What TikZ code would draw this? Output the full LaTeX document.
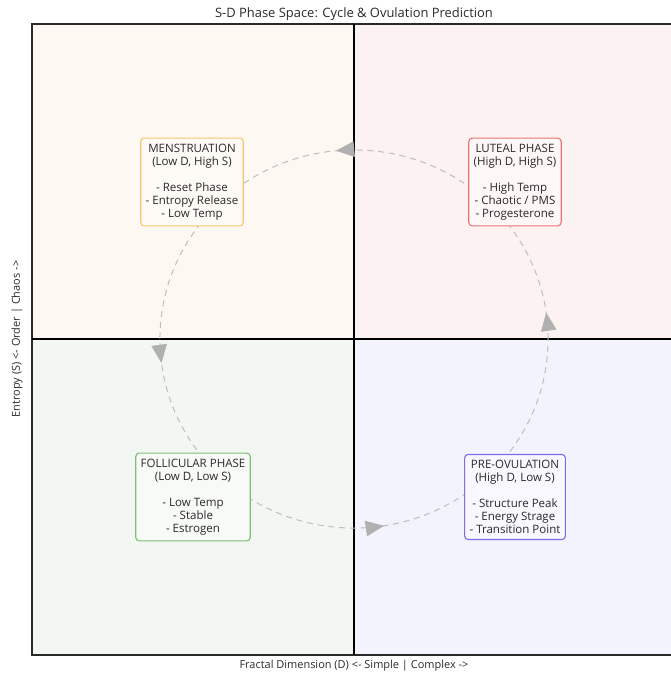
\documentclass[tikz,border=0pt]{standalone}
\usepackage{fontspec}
\setmainfont{Open Sans}
\usetikzlibrary{arrows.meta,decorations.markings}
\definecolor{mensbg}{HTML}{FEF8F2}
\definecolor{lutbg}{HTML}{FDF2F2}
\definecolor{folbg}{HTML}{F3F7F1}
\definecolor{ovubg}{HTML}{F3F3FD}
\definecolor{mensline}{HTML}{F8C56E}
\definecolor{lutline}{HTML}{EC7474}
\definecolor{folline}{HTML}{7FBE78}
\definecolor{ovuline}{HTML}{7A70EE}
\definecolor{cyclegray}{HTML}{BDBDBD}
\definecolor{tipgray}{HTML}{B0B0B0}
\definecolor{txtgray}{HTML}{2A2A2A}
\begin{document}
\begin{tikzpicture}[x=0.025cm,y=0.025cm]
    \tikzset{
        phase/.style={draw,thick,rounded corners=2.5pt,align=center,inner xsep=3.5pt,inner ysep=4pt,
            text=txtgray,font=\fontsize{8.2}{9.3}\selectfont},
        label/.style={text=txtgray,font=\fontsize{7.8}{9}\selectfont},
        cycle/.style={cyclegray,line width=0.7pt,dash pattern=on 4.3pt off 3.4pt,
            postaction={decorate},decoration={markings,
                mark=at position 0.022 with {\arrow{Triangle[length=13pt,width=11pt,fill=tipgray,color=tipgray]}},
                mark=at position 0.265 with {\arrow{Triangle[length=13pt,width=11pt,fill=tipgray,color=tipgray]}},
                mark=at position 0.52 with {\arrow{Triangle[length=13pt,width=11pt,fill=tipgray,color=tipgray]}},
                mark=at position 0.775 with {\arrow{Triangle[length=13pt,width=11pt,fill=tipgray,color=tipgray]}}}}
    }
    \useasboundingbox (0,0) rectangle (671,673);
    \fill[mensbg] (32,334) rectangle (354,649);
    \fill[lutbg] (354,334) rectangle (671,649);
    \fill[folbg] (32,18) rectangle (354,334);
    \fill[ovubg] (354,18) rectangle (671,334);
    \draw[txtgray,line width=1pt] (671,649) -- (32,649) -- (32,18) -- (671,18);
    \draw[black,line width=0.8pt] (354,18) -- (354,649);
    \draw[black,line width=0.8pt] (32,334) -- (671,334);
    \coordinate (hub) at (354,334);
    \draw[cycle] (hub) ellipse [x radius=4.85cm,y radius=4.725cm];
    \node[phase,draw=mensline,fill=mensbg!60!white] (mens) at (192,491) {MENSTRUATION\\(Low D, High S)\\[9.3pt]- Reset Phase\\- Entropy Release\\- Low Temp};
    \node[phase,draw=lutline,fill=lutbg!60!white] (luteal) at (515,491) {LUTEAL PHASE\\(High D, High S)\\[9.3pt]- High Temp\\- Chaotic / PMS\\- Progesterone};
    \node[phase,draw=folline,fill=folbg!60!white] (foll) at (193,176) {FOLLICULAR PHASE\\(Low D, Low S)\\[9.3pt]- Low Temp\\- Stable\\- Estrogen};
    \node[phase,draw=ovuline,fill=ovubg!60!white] (preov) at (515,176) {PRE-OVULATION\\(High D, Low S)\\[9.3pt]- Structure Peak\\- Energy Strage\\- Transition Point};
    \node[label,font=\fontsize{9.2}{11}\selectfont] (title) at (354,659) {S-D Phase Space: Cycle \& Ovulation Prediction};
    \node[label] (xlab) at (354,7) {Fractal Dimension (D) <- Simple | Complex ->};
    \node[label,rotate=90] (ylab) at (17,334) {Entropy (S) <- Order | Chaos ->};
\end{tikzpicture}
\end{document}
